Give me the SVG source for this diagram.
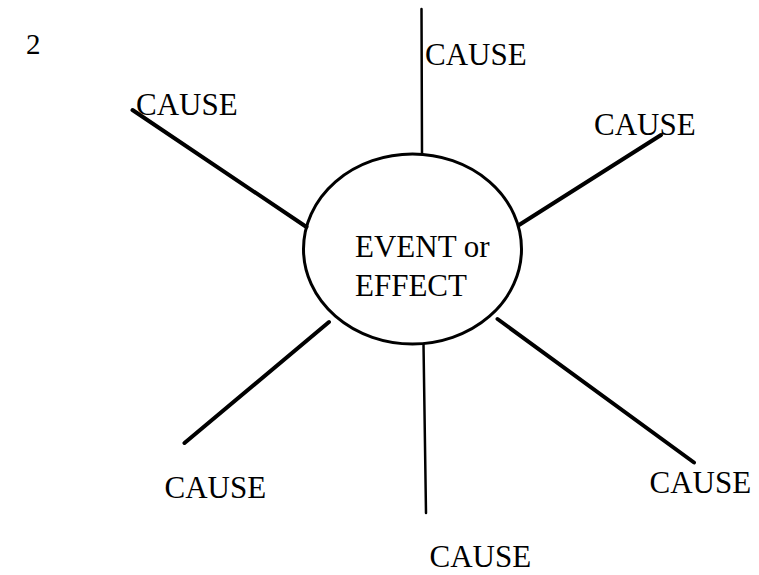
<svg xmlns="http://www.w3.org/2000/svg" width="759" height="575" viewBox="0 0 759 575">
<style>
.t{font-family:"Liberation Serif","Times New Roman",serif;font-size:31px;fill:#000}
.c{stroke:#000;stroke-linecap:round;fill:none}
.d{stroke-width:4}
.v{stroke-width:2.5}
</style>
<rect width="759" height="575" fill="#fff"/>
<text class="t" x="26" y="54" style="font-size:29px">2</text>
<g id="connectors">
<line class="c v" x1="421.5" y1="9" x2="422" y2="154"/>
<line class="c d" x1="132.5" y1="110" x2="306.5" y2="227"/>
<line class="c d" x1="661" y1="135" x2="519" y2="225"/>
<line class="c d" x1="329" y1="322" x2="184.5" y2="443"/>
<line class="c v" x1="423.5" y1="344" x2="426" y2="513"/>
<line class="c d" x1="497.5" y1="319" x2="694" y2="462.5"/>
</g>
<g id="event">
<ellipse cx="412.5" cy="249" rx="109" ry="95" fill="none" stroke="#000" stroke-width="3"/>
<text class="t" x="355" y="257">EVENT or</text>
<text class="t" x="355" y="296">EFFECT</text>
</g>
<g id="cause-top"><text class="t" x="425" y="65">CAUSE</text></g>
<g id="cause-upper-left"><text class="t" x="136" y="115">CAUSE</text></g>
<g id="cause-upper-right"><text class="t" x="594" y="135">CAUSE</text></g>
<g id="cause-lower-left"><text class="t" x="164.5" y="498">CAUSE</text></g>
<g id="cause-lower-right"><text class="t" x="649.5" y="493">CAUSE</text></g>
<g id="cause-bottom"><text class="t" x="429.5" y="567">CAUSE</text></g>
</svg>
